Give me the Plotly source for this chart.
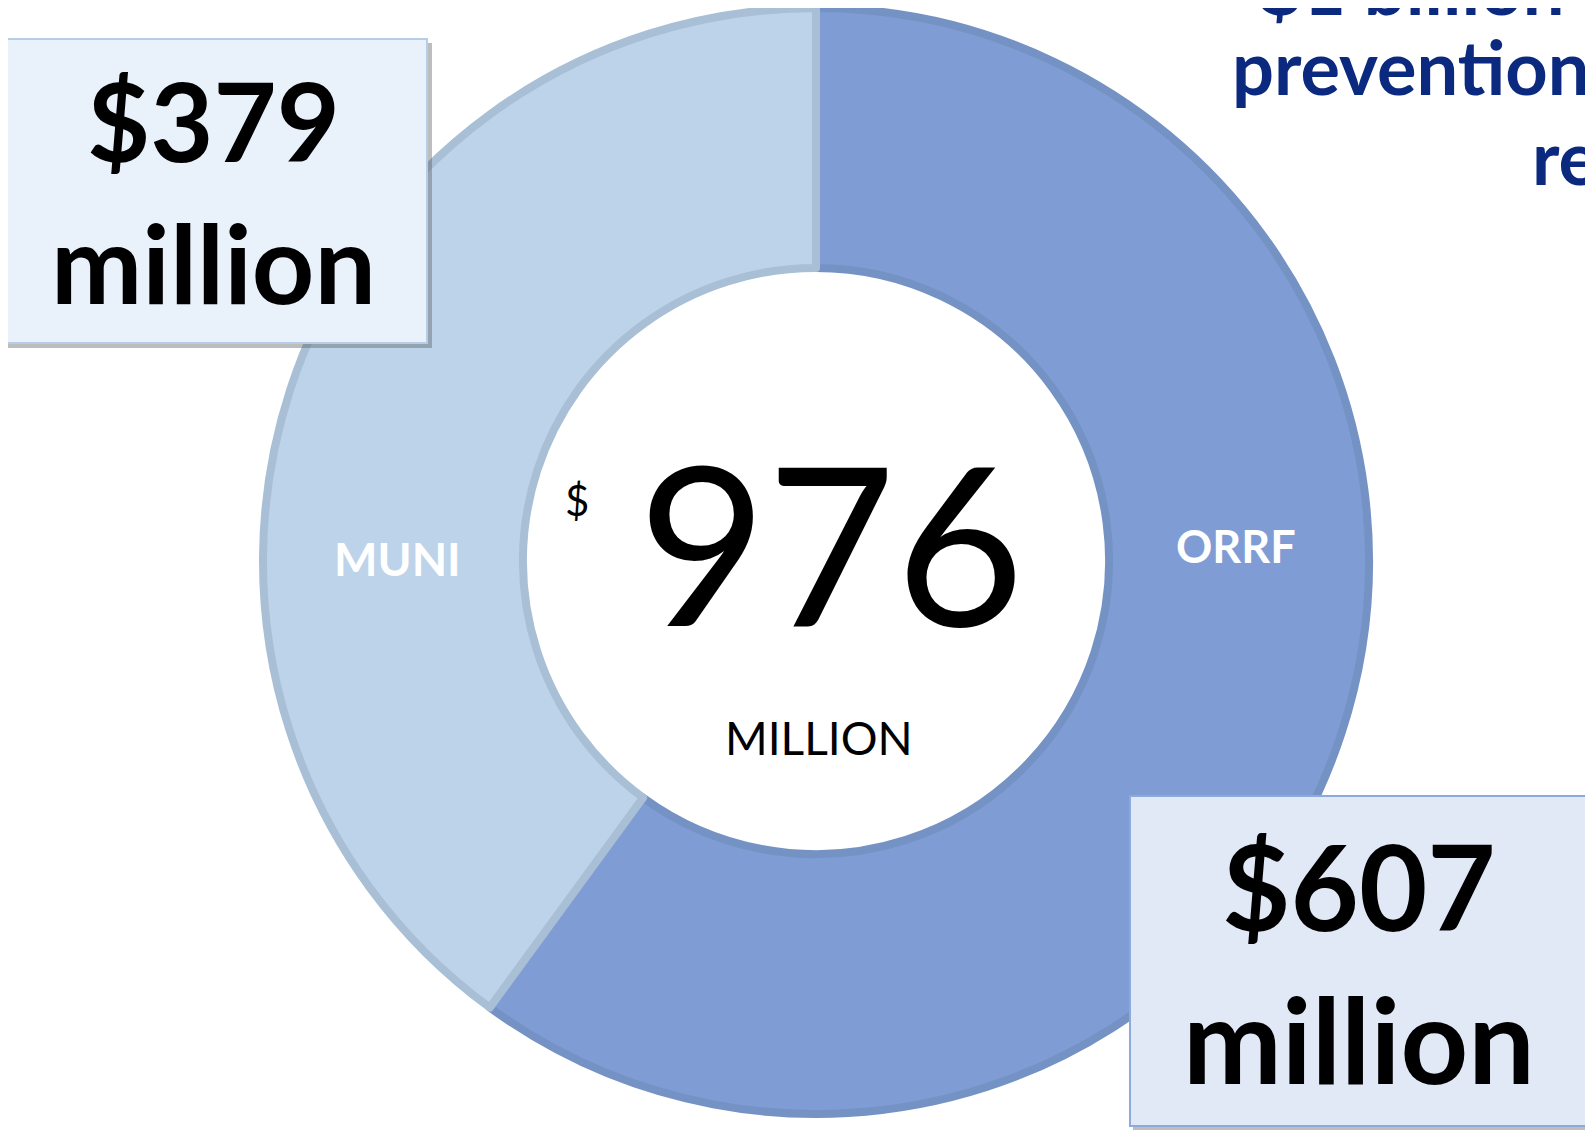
import plotly.graph_objects as go

W, H = 1593, 1130
OFF = 8  # default page body margin in the browser

# Data
categories = ["ORRF", "MUNI"]
slice_values = [586, 390]          # slice sizes as drawn (ORRF ~60% of ring)
total_label = "976"
box_labels = ["$379<br>million", "$607<br>million"]

fill_colors = ["#7f9dd4", "#bdd3ea"]
line_colors = ["#7592c4", "#a8bfd6"]

cx, cy, R = 816, 561, 553

def px(x):
    return (x - OFF) / W

def py(y):
    return 1 - (y - OFF) / H

fig = go.Figure()
fig.add_trace(go.Pie(
    labels=categories,
    values=slice_values,
    hole=0.53,
    sort=False,
    direction="clockwise",
    rotation=0,
    textinfo="none",
    hoverinfo="label",
    marker=dict(colors=fill_colors, line=dict(color=line_colors, width=8)),
    domain=dict(x=[px(cx - R), px(cx + R)], y=[py(cy + R), py(cy - R)]),
    showlegend=False,
))

shapes = []
# Left box (with shadow)
shapes.append(dict(type="rect", xref="paper", yref="paper", layer="above",
                   x0=px(6), x1=px(432), y0=py(348), y1=py(43),
                   fillcolor="rgba(90,90,90,0.40)", line=dict(width=0)))
shapes.append(dict(type="rect", xref="paper", yref="paper", layer="above",
                   x0=px(2), x1=px(427), y0=py(343), y1=py(39),
                   fillcolor="#e9f1fa", line=dict(color="#b5cde6", width=2)))
# Right box (with shadow)
shapes.append(dict(type="rect", xref="paper", yref="paper", layer="above",
                   x0=px(1133), x1=px(1593), y0=py(1130), y1=py(799),
                   fillcolor="rgba(90,90,90,0.40)", line=dict(width=0)))
shapes.append(dict(type="rect", xref="paper", yref="paper", layer="above",
                   x0=px(1130), x1=px(1588), y0=py(1126), y1=py(796),
                   fillcolor="#e2e9f6", line=dict(color="#8eaadb", width=2)))

FONT = "Lato, 'Open Sans', sans-serif"
ann = []
def a(x, y, text, size, color="black", bold=False, xanchor="center"):
    t = f"<b>{text}</b>" if bold else text
    ann.append(dict(x=px(x), y=py(y), xref="paper", yref="paper", text=t,
                    showarrow=False, xanchor=xanchor, yanchor="middle",
                    font=dict(family=FONT, size=size, color=color)))

# slice labels
a(1236, 546, categories[0], 45, "white", True)
a(397, 558, categories[1], 46, "white", True)
# center total
a(831, 540, total_label, 222)
a(577, 500, "$", 42)
a(819, 737, "MILLION", 46)
# boxes
ann.append(dict(x=px(214), y=py(191), xref="paper", yref="paper",
                text=f"<b>{box_labels[0]}</b>", showarrow=False,
                xanchor="center", yanchor="middle", align="center",
                font=dict(family=FONT, size=109, color="black")))
ann.append(dict(x=px(1359), y=py(962), xref="paper", yref="paper",
                text=f"<b>{box_labels[1]}</b>", showarrow=False,
                xanchor="center", yanchor="middle", align="center",
                font=dict(family=FONT, size=118, color="black")))
# cropped top-right text
navy = "#0b2a7f"
a(1258, -14, "$1 billion for", 74, navy, True, xanchor="left")
a(1230, 66, "prevention, mitigation", 74, navy, True, xanchor="left")
a(1530, 156, "response", 74, navy, True, xanchor="left")

fig.update_layout(
    width=W, height=H,
    margin=dict(l=0, r=0, t=0, b=0),
    paper_bgcolor="white", plot_bgcolor="white",
    shapes=shapes, annotations=ann,
)

fig.write_html("out.html")
